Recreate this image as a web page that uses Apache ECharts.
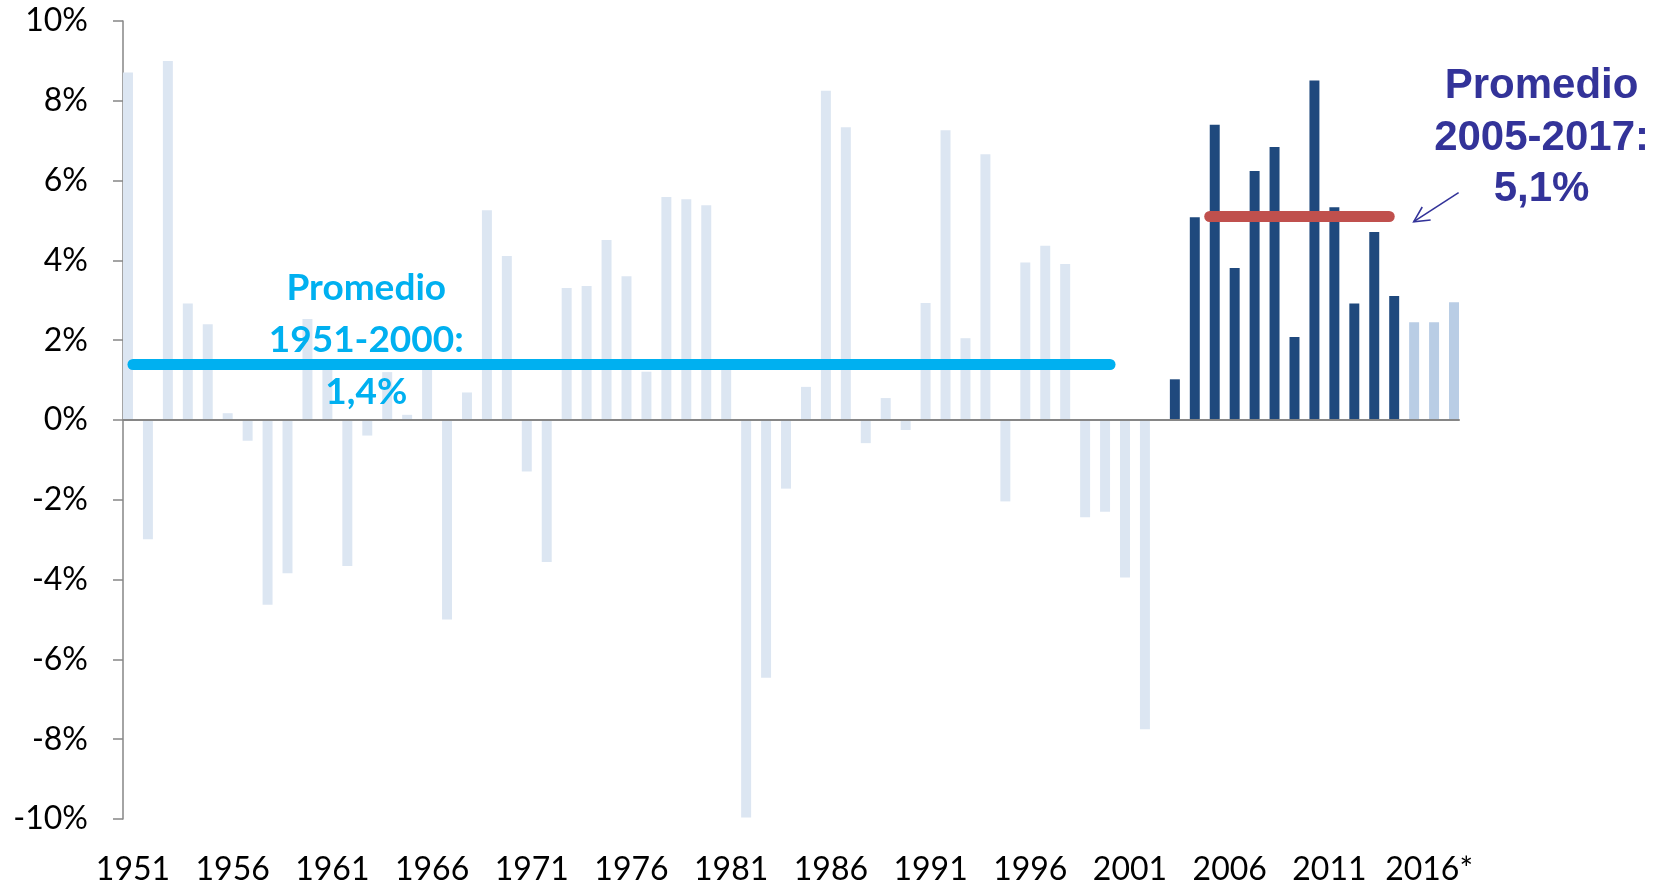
<!DOCTYPE html>
<html>
<head>
<meta charset="utf-8">
<script src="https://cdn.jsdelivr.net/npm/echarts@6/dist/echarts.min.js"></script>
<style>
html,body{margin:0;padding:0;background:#ffffff;}
#chart{width:1664px;height:882px;}
</style>
</head>
<body>
<div id="chart"></div>
<script>
// ---- Data ----
const categories = [
  '1951','1952','1953','1954','1955','1956','1957','1958','1959','1960',
  '1961','1962','1963','1964','1965','1966','1967','1968','1969','1970',
  '1971','1972','1973','1974','1975','1976','1977','1978','1979','1980',
  '1981','1982','1983','1984','1985','1986','1987','1988','1989','1990',
  '1991','1992','1993','1994','1995','1996','1997','1998','1999','2000',
  '2001','2002','2003','2004','2005','2006','2007','2008','2009','2010',
  '2011','2012','2013','2014','2015','2016*','2017'
];

// 1951 - 2002 (light bars)
const historicValues = [
  8.71, -2.99, 9.00, 2.92, 2.40, 0.17, -0.52, -4.63, -3.84, 2.53,
  1.30, -3.66, -0.39, 1.20, 0.13, 1.40, -5.00, 0.69, 5.26, 4.11,
  -1.29, -3.56, 3.31, 3.36, 4.51, 3.60, 1.21, 5.59, 5.53, 5.38,
  1.30, -9.96, -6.46, -1.72, 0.83, 8.25, 7.34, -0.58, 0.55, -0.25,
  2.93, 7.26, 2.05, 6.66, -2.04, 3.95, 4.37, 3.91, -2.44, -2.30,
  -3.95, -7.75
];
// 2003 - 2014 (dark bars)
const recentValues = [1.02, 5.08, 7.40, 3.81, 6.24, 6.84, 2.08, 8.51, 5.33, 2.92, 4.71, 3.11];
// 2015 - 2017* (projected bars)
const projectedValues = [2.45, 2.45, 2.95];

// Averages drawn as horizontal bars
const avgOld = {from: '1951', to: '2000', value: 1.4};
const avgNew = {from: '2005', to: '2014', value: 5.1};

// Axis ticks
const yMin = -10, yMax = 10, yInterval = 2;

// ---- Build series data from the arrays ----
const nHist = historicValues.length;
const nRecent = recentValues.length;
const nProj = projectedValues.length;
const nAll = categories.length;
const pad = n => new Array(n).fill(null);

const histData = historicValues.concat(pad(nAll - nHist));
const recentData = pad(nHist).concat(recentValues, pad(nProj));
const projData = pad(nHist + nRecent).concat(projectedValues);

const GRAY = '#868686';
const tickFont = 'Lato';

const chart = echarts.init(document.getElementById('chart'), null, {renderer: 'canvas'});

const option = {
  animation: false,
  backgroundColor: '#ffffff',
  grid: {left: 123, right: 205, top: 21, bottom: 63, containLabel: false, outerBoundsMode: 'none'},
  xAxis: [
    {
      type: 'category',
      data: categories,
      position: 'bottom',
      axisLine: {show: false, onZero: false},
      axisTick: {show: false},
      axisLabel: {
        interval: 4,
        margin: 35,
        color: '#000000',
        fontFamily: tickFont,
        fontSize: 32
      },
      splitLine: {show: false}
    },
    {
      type: 'category',
      data: categories,
      position: 'bottom',
      z: 10,
      axisLine: {show: true, onZero: true, lineStyle: {color: GRAY, width: 2}},
      axisTick: {show: false},
      axisLabel: {show: false},
      splitLine: {show: false}
    }
  ],
  yAxis: {
    type: 'value',
    min: yMin,
    max: yMax,
    interval: yInterval,
    axisLine: {show: true, lineStyle: {color: GRAY, width: 1.5}},
    axisTick: {show: true, length: 10, inside: false, lineStyle: {color: GRAY, width: 1.5}},
    axisLabel: {
      formatter: '{value}%',
      margin: 35,
      color: '#000000',
      fontFamily: tickFont,
      fontSize: 32
    },
    splitLine: {show: false}
  },
  series: [
    {
      name: 'historic',
      type: 'bar',
      xAxisIndex: 0,
      data: histData,
      barGap: '0%',
      barCategoryGap: '0%',
      itemStyle: {color: '#DCE6F2'},
      silent: true
    },
    {
      name: 'recent',
      type: 'bar',
      xAxisIndex: 0,
      stack: 'r',
      data: recentData,
      barGap: '0%',
      barCategoryGap: '0%',
      itemStyle: {color: '#1F497D'},
      silent: true
    },
    {
      name: 'projected',
      type: 'bar',
      xAxisIndex: 0,
      stack: 'r',
      data: projData,
      barGap: '0%',
      barCategoryGap: '0%',
      itemStyle: {color: '#B9CDE5'},
      silent: true
    },
    {
      name: 'averages',
      type: 'line',
      xAxisIndex: 0,
      data: [],
      silent: true,
      z: 6,
      markLine: {
        silent: true,
        symbol: ['none', 'none'],
        label: {show: false},
        emphasis: {disabled: true},
        z: 6,
        data: [
          [
            {coord: [avgOld.from, avgOld.value], lineStyle: {color: '#00B0F0', width: 11, type: 'solid', cap: 'round'}},
            {coord: [avgOld.to, avgOld.value]}
          ],
          [
            {coord: [avgNew.from, avgNew.value], lineStyle: {color: '#C0504D', width: 11, type: 'solid', cap: 'round'}},
            {coord: [avgNew.to, avgNew.value]}
          ]
        ]
      }
    }
  ]
};

chart.setOption(option);

// ---- Annotations anchored on the chart's own scales ----
function px(idx, val) {
  const x0 = chart.convertToPixel({xAxisIndex: 0}, categories[0]);
  const x1 = chart.convertToPixel({xAxisIndex: 0}, categories[nAll - 1]);
  const x = x0 + (x1 - x0) * idx / (nAll - 1);
  const y = chart.convertToPixel({yAxisIndex: 0}, val);
  return [x, y];
}

const leftText = px(11.7, 2.0);
const rightText = px(70.64, 7.06);
const arrowStart = px(66.48, 5.70);
const arrowEnd = px(64.23, 4.97);
const ang = Math.atan2(arrowStart[1] - arrowEnd[1], arrowStart[0] - arrowEnd[0]);
const wing = 17, spread = 27 * Math.PI / 180;
const w1 = [arrowEnd[0] + wing * Math.cos(ang + spread), arrowEnd[1] + wing * Math.sin(ang + spread)];
const w2 = [arrowEnd[0] + wing * Math.cos(ang - spread), arrowEnd[1] + wing * Math.sin(ang - spread)];

chart.setOption({
  graphic: [
    {
      type: 'text', z: 100, silent: true,
      x: leftText[0], y: leftText[1],
      style: {
        text: 'Promedio\n1951-2000:\n1,4%',
        fill: '#00B0F0',
        fontFamily: 'Lato', fontWeight: 'bold', fontSize: 37,
        lineHeight: 52,
        align: 'center', verticalAlign: 'middle'
      }
    },
    {
      type: 'text', z: 100, silent: true,
      x: rightText[0], y: rightText[1],
      style: {
        text: 'Promedio\n2005-2017:\n5,1%',
        fill: '#333399',
        fontFamily: 'Liberation Sans', fontWeight: 'bold', fontSize: 42,
        lineHeight: 51.5,
        align: 'center', verticalAlign: 'middle'
      }
    },
    {
      type: 'line', z: 100, silent: true,
      shape: {x1: arrowStart[0], y1: arrowStart[1], x2: arrowEnd[0], y2: arrowEnd[1]},
      style: {stroke: '#333399', lineWidth: 1.6}
    },
    {
      type: 'polyline', z: 100, silent: true,
      shape: {points: [w1, arrowEnd, w2]},
      style: {stroke: '#333399', lineWidth: 1.6, fill: null}
    }
  ]
});
</script>
</body>
</html>
